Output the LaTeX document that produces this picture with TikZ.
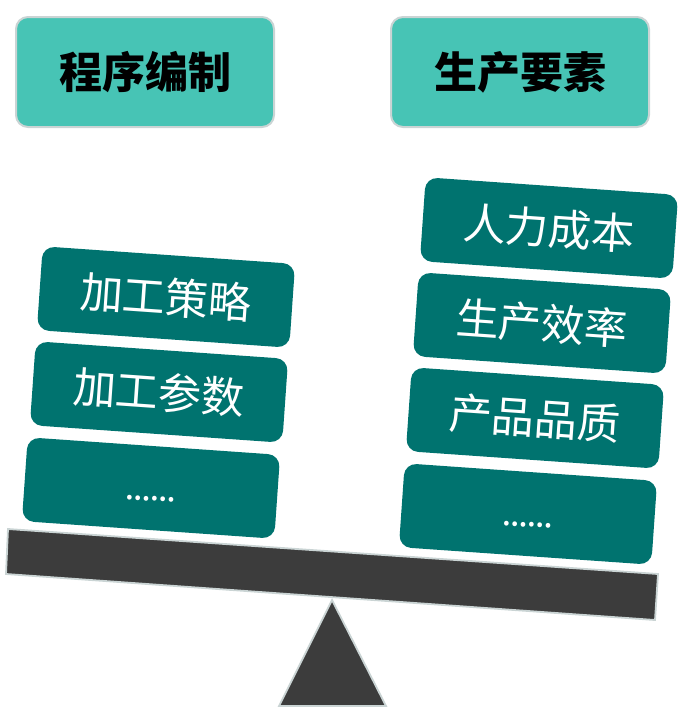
\documentclass[tikz,border=0pt]{standalone}
\usepackage{fontspec}
\newfontfamily\cjk{Noto Sans CJK SC}
\definecolor{headfill}{HTML}{47C4B5}
\definecolor{rimgray}{HTML}{CAD4D4}
\definecolor{itemfill}{HTML}{00736F}
\definecolor{beamgray}{HTML}{3C3C3C}
\tikzset{
  head/.style={draw=rimgray, line width=2pt, fill=headfill, rounded corners=12pt,
    minimum width=258pt, minimum height=110pt, font=\cjk\bfseries\fontsize{43}{50}\selectfont},
  item/.style={fill=itemfill, rounded corners=12pt, minimum width=253pt, minimum height=84pt,
    rotate=-4, text=white, inner sep=0pt, font=\cjk\fontsize{43}{50}\selectfont},
  beam/.style={draw=rimgray, line width=1.8pt, fill=beamgray, line join=miter},
}
\newcommand{\moredots}{\smash{\raisebox{-13pt}{\bfseries\fontsize{22}{24}\selectfont ……}}}
\begin{document}
\begin{tikzpicture}[x=1pt,y=-1pt]
    \useasboundingbox (0,0) rectangle (693,715);

    % headings
    \node[head] (prog) at (145,72) {程序编制};
    \node[head] (prod) at (520,72) {生产要素};

    % left pan
    \node[item] (strat) at (166,297) {加工策略};
    \node[item] (param) at (159,392) {加工参数};
    \node[item] (lmore) at (151,488) {\moredots};

    % right pan
    \node[item] (cost) at (549,228) {人力成本};
    \node[item] (rate) at (542,323) {生产效率};
    \node[item] (qual) at (535,418) {产品品质};
    \node[item] (rmore) at (528,514) {\moredots};

    % fulcrum and beam
    \coordinate (tip) at (332,600);
    \draw[beam] (tip) -- (386,706) -- (279,706) -- cycle;
    \draw[beam] (8,529) -- (658,574) -- (655,620) -- (6,574) -- cycle;

\end{tikzpicture}
\end{document}
